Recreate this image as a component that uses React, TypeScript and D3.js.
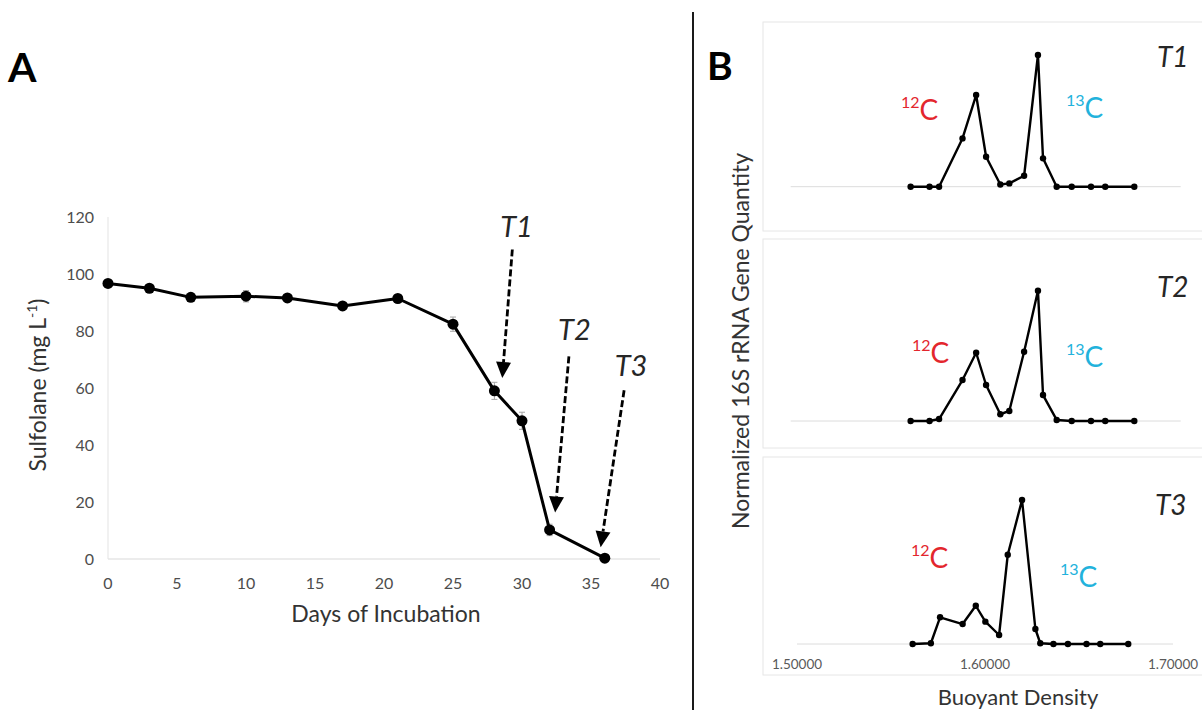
import React from "react";
import * as d3 from "d3";

// ---------- Panel A data ----------
const days = [0, 3, 6, 10, 13, 17, 21, 25, 28, 30, 32, 36];
const sulfolane = [96.7, 95, 91.8, 92.2, 91.6, 88.8, 91.4, 82.4, 59, 48.5, 10.2, 0.3];
const sulfolaneErr = [1, 1, 1, 2, 1, 1, 1, 2.5, 3, 3, 2, 0.5];
const xTicksA = [0, 5, 10, 15, 20, 25, 30, 35, 40];
const yTicksA = [0, 20, 40, 60, 80, 100, 120];

const timepoints = ["T1", "T2", "T3"];
const arrowStartDay = [29.3, 33.4, 37.4];
const arrowStartVal = [108.6, 71.1, 59.2];
const arrowTipDay = [28.57, 32.4, 35.7];
const arrowTipVal = [63.5, 16.3, 4.1];
const labelDay = [29.6, 33.8, 37.9];
const labelVal = [116.5, 80.4, 67.6];

// ---------- Panel B data ----------
const density = [1.5615, 1.5712, 1.5761, 1.5881, 1.5951, 1.6002, 1.6075, 1.6121, 1.6197, 1.6268, 1.6294, 1.6364, 1.6441, 1.654, 1.6613, 1.6762];
const t1Qty = [0, 0, 0, 0.322, 0.611, 0.2, 0.015, 0.022, 0.073, 0.878, 0.189, 0, 0, 0, 0, 0];
const t2Qty = [0, 0, 0.013, 0.273, 0.455, 0.24, 0.045, 0.067, 0.462, 0.869, 0.173, 0.007, 0, 0, 0, 0];
const t3Qty = [0, 0.005, 0.178, 0.133, 0.255, 0.149, 0.06, 0.595, 0.96, 0.1, 0.005, 0, 0, 0, 0, 0];
const densityTicks = [1.5, 1.6, 1.7];

const FONT = "Lato, 'Open Sans', sans-serif";
const RED = "#e3262d";
const CYAN = "#22b2dc";

function PanelA() {
  const x = d3.scaleLinear().domain([0, 40]).range([108, 660]);
  const y = d3.scaleLinear().domain([0, 120]).range([559, 217]);
  const line = d3
    .line<number>()
    .x((_, i) => x(days[i]))
    .y((d) => y(d));
  return (
    <g>
      <text x={8} y={82} fontFamily={FONT} fontWeight={700} fontSize={41} fill="#000">A</text>
      {/* axes */}
      <line x1={x(0)} x2={x(40)} y1={y(0)} y2={y(0)} stroke="#d9d9d9" strokeWidth={1.2} />
      <line x1={x(0)} x2={x(0)} y1={y(0)} y2={y(120)} stroke="#e3e3e3" strokeWidth={1} />
      {xTicksA.map((t) => (
        <text key={"xa" + t} x={x(t)} y={589} textAnchor="middle" fontFamily={FONT} fontSize={16} fill="#4d4d4d">{t}</text>
      ))}
      {yTicksA.map((t) => (
        <text key={"ya" + t} x={94} y={y(t) + 6} textAnchor="end" fontFamily={FONT} fontSize={16} fill="#4d4d4d">{t}</text>
      ))}
      <text x={386} y={622} textAnchor="middle" fontFamily={FONT} fontSize={23} fill="#333">Days of Incubation</text>
      <text transform="translate(46,385) rotate(-90)" textAnchor="middle" fontFamily={FONT} fontSize={23} fill="#333">
        Sulfolane (mg L<tspan dy={-9} fontSize={14}>-1</tspan><tspan dy={9}>)</tspan>
      </text>
      {/* error bars */}
      {sulfolane.map((v, i) => (
        <g key={"e" + i} stroke="#a6a6a6" strokeWidth={1}>
          <line x1={x(days[i])} x2={x(days[i])} y1={y(v - sulfolaneErr[i])} y2={y(v + sulfolaneErr[i])} />
          <line x1={x(days[i]) - 3} x2={x(days[i]) + 3} y1={y(v - sulfolaneErr[i])} y2={y(v - sulfolaneErr[i])} />
          <line x1={x(days[i]) - 3} x2={x(days[i]) + 3} y1={y(v + sulfolaneErr[i])} y2={y(v + sulfolaneErr[i])} />
        </g>
      ))}
      <path d={line(sulfolane) || ""} fill="none" stroke="#000" strokeWidth={3} strokeLinejoin="round" />
      {sulfolane.map((v, i) => (
        <circle key={"p" + i} cx={x(days[i])} cy={y(v)} r={5.5} fill="#000" />
      ))}
      {/* arrows */}
      {timepoints.map((t, i) => {
        const x0 = x(arrowStartDay[i]);
        const y0 = y(arrowStartVal[i]);
        const x1 = x(arrowTipDay[i]);
        const y1 = y(arrowTipVal[i]);
        const dx = x1 - x0;
        const dy = y1 - y0;
        const len = Math.sqrt(dx * dx + dy * dy);
        const ux = dx / len;
        const uy = dy / len;
        const hl = 16;
        const hw = 7.5;
        const bx = x1 - ux * hl;
        const by = y1 - uy * hl;
        const pts = [
          [x1, y1],
          [bx - uy * hw, by + ux * hw],
          [bx + uy * hw, by - ux * hw],
        ];
        return (
          <g key={t}>
            <line x1={x0} y1={y0} x2={bx} y2={by} stroke="#000" strokeWidth={2.8} strokeDasharray="7,3" />
            <polygon points={pts.map((p) => p.join(",")).join(" ")} fill="#000" />
            <text x={x(labelDay[i])} y={y(labelVal[i]) + 10} textAnchor="middle" fontFamily={FONT} fontStyle="italic" fontSize={29} fill="#262626">{t}</text>
          </g>
        );
      })}
    </g>
  );
}

type Panel = {
  qty: number[];
  top: number;
  bottom: number;
  baseline: number;
  x0: number;
  x1: number;
  label: string;
  labelX: number;
  labelY: number;
  c12X: number;
  c12Y: number;
  c13X: number;
  c13Y: number;
  ticks: boolean;
};

function PanelB() {
  const panels: Panel[] = [
    { qty: t1Qty, top: 22, bottom: 231, baseline: 186.7, x0: 790.7, x1: 1180.7, label: "T1", labelX: 1157, labelY: 67, c12X: 901, c12Y: 120, c13X: 1066, c13Y: 118, ticks: false },
    { qty: t2Qty, top: 239, bottom: 448, baseline: 421, x0: 790.7, x1: 1180.7, label: "T2", labelX: 1157, labelY: 297, c12X: 912, c12Y: 363, c13X: 1066, c13Y: 367, ticks: false },
    { qty: t3Qty, top: 457, bottom: 675, baseline: 644, x0: 797, x1: 1173, label: "T3", labelX: 1155, labelY: 515, c12X: 911, c12Y: 568, c13X: 1060, c13Y: 587, ticks: true },
  ];
  return (
    <g>
      <line x1={693} x2={693} y1={12} y2={710} stroke="#1a1a1a" strokeWidth={2} />
      <text x={707} y={80} fontFamily={FONT} fontWeight={700} fontSize={39} fill="#000">B</text>
      <text transform="translate(749,341) rotate(-90)" textAnchor="middle" fontFamily={FONT} fontSize={23} fill="#333">
        Normalized 16S rRNA Gene Quantity
      </text>
      <text x={1018} y={705} textAnchor="middle" fontFamily={FONT} fontSize={22} fill="#333">Buoyant Density</text>
      {panels.map((p, k) => {
        const x = d3.scaleLinear().domain([1.5, 1.7]).range([p.x0, p.x1]);
        const y = d3.scaleLinear().domain([0, 1]).range([p.baseline, p.baseline - 150]);
        const line = d3
          .line<number>()
          .x((_, i) => x(density[i]))
          .y((d) => y(d));
        return (
          <g key={"pb" + k}>
            <rect x={763} y={p.top} width={460} height={p.bottom - p.top} fill="none" stroke="#e6e6e6" strokeWidth={1} />
            <line x1={x(1.5)} x2={x(1.7)} y1={y(0)} y2={y(0)} stroke="#dcdcdc" strokeWidth={1} />
            <path d={line(p.qty) || ""} fill="none" stroke="#000" strokeWidth={2.4} strokeLinejoin="round" />
            {p.qty.map((v, i) => (
              <circle key={i} cx={x(density[i])} cy={y(v)} r={3.2} fill="#000" />
            ))}
            {p.ticks &&
              densityTicks.map((t) => (
                <text key={"t" + t} x={x(t)} y={669} textAnchor="middle" fontFamily={FONT} fontSize={13.5} fill="#595959">
                  {t.toFixed(5)}
                </text>
              ))}
            <text x={p.labelX} y={p.labelY} fontFamily={FONT} fontStyle="italic" fontSize={28} fill="#262626">{p.label}</text>
            <text x={p.c12X} y={p.c12Y} fontFamily={FONT} fontSize={28} fill={RED}>
              <tspan fontSize={16} dy={-12}>12</tspan>
              <tspan dy={12}>C</tspan>
            </text>
            <text x={p.c13X} y={p.c13Y} fontFamily={FONT} fontSize={28} fill={CYAN}>
              <tspan fontSize={16} dy={-12}>13</tspan>
              <tspan dy={12}>C</tspan>
            </text>
          </g>
        );
      })}
    </g>
  );
}

export default function App() {
  return (
    <svg
      width={1202}
      height={710}
      viewBox="0 0 1202 710"
      style={{ position: "absolute", left: 0, top: 0, background: "#fff" }}
    >
      <rect x={0} y={0} width={1202} height={710} fill="#fff" />
      <PanelA />
      <PanelB />
    </svg>
  );
}
